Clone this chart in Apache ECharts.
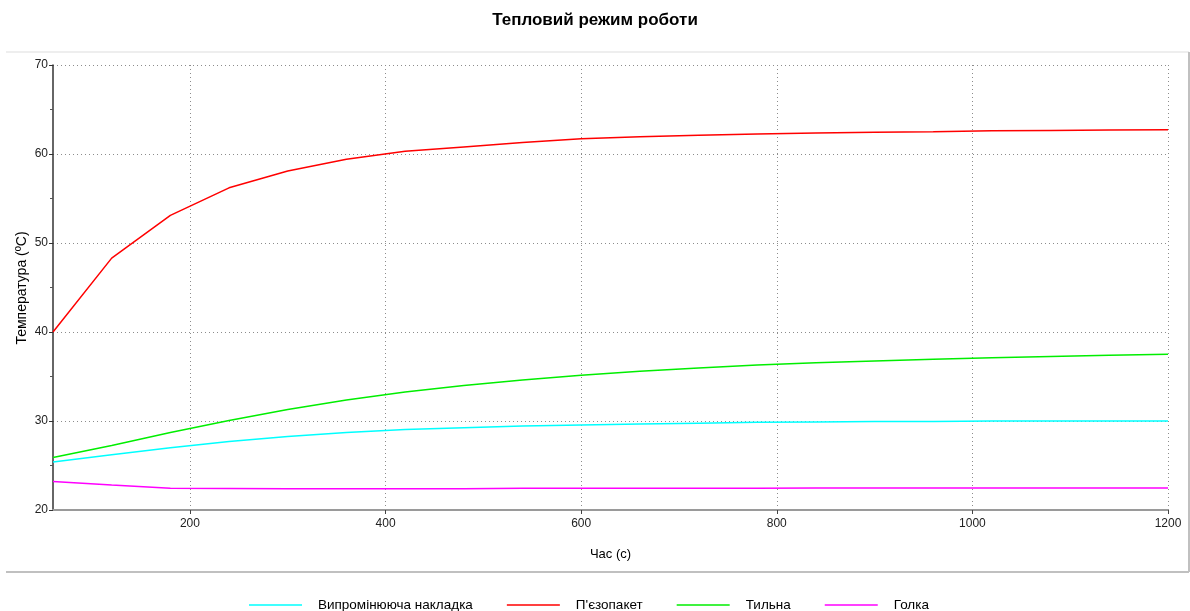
<!DOCTYPE html>
<html>
<head>
<meta charset="utf-8">
<script src="https://cdn.jsdelivr.net/npm/echarts@6/dist/echarts.min.js"></script>
<style>
  html, body { margin: 0; padding: 0; background: #fff; }
  #chart { width: 1190px; height: 611px; }
</style>
</head>
<body>
<div id="chart"></div>
<script>
// Time samples, seconds
const times = [60, 120, 180, 240, 300, 360, 420, 480, 540, 600,
               660, 720, 780, 840, 900, 960, 1020, 1080, 1140, 1200];

// Temperatures, °C
const radiatorPad = [25.4, 26.2, 27.0, 27.7, 28.25, 28.7, 29.05, 29.25, 29.45, 29.55,
                     29.65, 29.75, 29.85, 29.9, 29.93, 29.95, 30.0, 30.0, 30.0, 30.0];
const piezoStack  = [40.0, 48.3, 53.1, 56.2, 58.1, 59.4, 60.3, 60.8, 61.3, 61.7,
                     61.95, 62.1, 62.25, 62.35, 62.45, 62.5, 62.6, 62.65, 62.7, 62.72];
const backPlate   = [25.9, 27.25, 28.7, 30.05, 31.3, 32.35, 33.25, 34.0, 34.6, 35.15,
                     35.6, 35.95, 36.3, 36.55, 36.75, 36.95, 37.1, 37.25, 37.4, 37.5];
const needle      = [23.2, 22.8, 22.45, 22.42, 22.4, 22.4, 22.4, 22.4, 22.45, 22.45,
                     22.45, 22.45, 22.45, 22.46, 22.46, 22.46, 22.47, 22.47, 22.47, 22.47];

const seriesNames = ['Випромінююча накладка', "П'єзопакет", 'Тильна', 'Голка'];
const seriesColors = ['#00ffff', '#ff0000', '#00ee00', '#ff00ff'];
const seriesValues = [radiatorPad, piezoStack, backPlate, needle];

const xTickValues = [200, 400, 600, 800, 1000, 1200];

const FONT = 'Liberation Sans, Arial, sans-serif';

const chart = echarts.init(document.getElementById('chart'), null, { renderer: 'canvas' });

chart.setOption({
  animation: false,
  backgroundColor: '#ffffff',
  title: {
    text: 'Тепловий режим роботи',
    left: 'center',
    top: 7,
    textStyle: { fontFamily: FONT, fontSize: 17, fontWeight: 'bold', color: '#000' }
  },
  graphic: [
    // panel frame around the plot
    { type: 'line', shape: { x1: 6, y1: 52, x2: 1189, y2: 52 }, style: { stroke: '#e8e8e8', lineWidth: 1.5 }, silent: true },
    { type: 'line', shape: { x1: 6, y1: 572, x2: 1189, y2: 572 }, style: { stroke: '#c0c0c0', lineWidth: 2 }, silent: true },
    { type: 'line', shape: { x1: 1189, y1: 52, x2: 1189, y2: 572 }, style: { stroke: '#c0c0c0', lineWidth: 2 }, silent: true },
    // vertical axis title
    {
      type: 'text',
      x: 22,
      y: 288,
      rotation: Math.PI / 2,
      silent: true,
      style: {
        text: 'Температура (ºC)',
        fontFamily: FONT,
        fontSize: 14,
        fill: '#000',
        align: 'center',
        verticalAlign: 'middle'
      }
    }
  ],
  legend: {
    top: 593,
    left: 244,
    icon: 'rect',
    itemWidth: 53,
    itemHeight: 1.5,
    itemGap: 34,
    data: seriesNames,
    textStyle: { fontFamily: FONT, fontSize: 13.5, color: '#000', padding: [0, 0, 0, 11] }
  },
  grid: { left: 53, right: 22, top: 65, bottom: 101, containLabel: false },
  xAxis: {
    type: 'value',
    min: 60,
    max: 1200,
    splitNumber: 6,
    name: 'Час (с)',
    nameLocation: 'middle',
    nameGap: 38,
    nameTextStyle: { fontFamily: FONT, fontSize: 13, color: '#000' },
    axisLine: { show: true, onZero: false, lineStyle: { color: '#9a9a9a', width: 2 } },
    axisTick: { show: true, customValues: xTickValues, length: 4, lineStyle: { color: '#444' } },
    axisLabel: {
      customValues: xTickValues,
      margin: 8,
      fontFamily: FONT,
      fontSize: 12,
      color: '#222',
      formatter: (v) => String(v)
    },
    splitLine: { show: true, lineStyle: { color: '#8c8c8c', type: [1, 3], width: 1 } }
  },
  yAxis: {
    type: 'value',
    min: 20,
    max: 70,
    interval: 10,
    axisLine: { show: true, onZero: false, lineStyle: { color: '#333', width: 1.5 } },
    axisTick: { show: true, length: 4, lineStyle: { color: '#333' } },
    minorTick: { show: true, splitNumber: 2, length: 3, lineStyle: { color: '#555' } },
    axisLabel: { margin: 5, fontFamily: FONT, fontSize: 12, color: '#222' },
    splitLine: { show: true, lineStyle: { color: '#8c8c8c', type: [1, 3], width: 1 } }
  },
  series: seriesNames.map((name, i) => ({
    name: name,
    type: 'line',
    data: times.map((t, j) => [t, seriesValues[i][j]]),
    showSymbol: false,
    symbol: 'none',
    smooth: false,
    lineStyle: { color: seriesColors[i], width: 1.5 },
    itemStyle: { color: seriesColors[i] },
    z: 3
  }))
});
</script>
</body>
</html>
